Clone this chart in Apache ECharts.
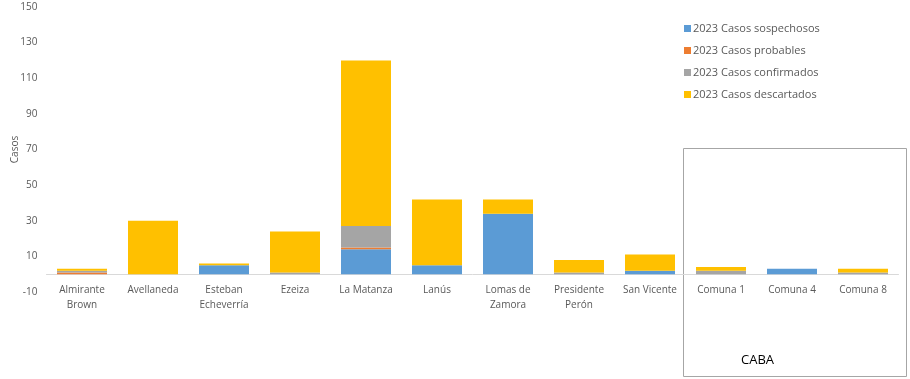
<!DOCTYPE html>
<html><head><meta charset="utf-8">
<script src="https://cdn.jsdelivr.net/npm/echarts@6/dist/echarts.min.js"></script>
<style>html,body{margin:0;padding:0;background:#fff}#c{width:910px;height:379px}</style>
</head><body><div id="c"></div>
<script>
const categories = ["Almirante\nBrown","Avellaneda","Esteban\nEcheverría","Ezeiza","La Matanza","Lanús","Lomas de\nZamora","Presidente\nPerón","San Vicente","Comuna 1","Comuna 4","Comuna 8"];
const sospechosos = [0,0,5,0,14,5,34,0,2,0,3,0];
const probables   = [1,0,0,0,1,0,0,0,0,0,0,0];
const confirmados = [1,0,0,1,12,0,0,1,0,2,0,1];
const descartados = [1,30,1,23,93,37,8,7,9,2,0,2];
const seriesNames = ["2023 Casos sospechosos","2023 Casos probables","2023 Casos confirmados","2023 Casos descartados"];
const yTicks = {min:-10,max:150,interval:20};

const colors = ['#5B9BD5','#ED7D31','#A5A5A5','#FFC000'];
const font = "'Open Sans', sans-serif";
const chart = echarts.init(document.getElementById('c'));
const datasets = [sospechosos, probables, confirmados, descartados];
chart.setOption({
  animation:false,
  color: colors,
  grid:{left:46.5,right:11.5,top:7,bottom:87,containLabel:false,outerBoundsMode:'none'},
  legend:{orient:'vertical',left:679,top:18,itemWidth:7,itemHeight:7,itemGap:11,icon:'rect',
    textStyle:{fontFamily:font,fontSize:11,color:'#595959',padding:[0,0,0,-3]},data:seriesNames},
  xAxis:{type:'category',data:categories,
    axisLine:{onZero:true,lineStyle:{color:'#d9d9d9'}},axisTick:{show:false},
    axisLabel:{fontFamily:font,fontSize:10,color:'#595959',lineHeight:15,margin:-9,interval:0}},
  yAxis:{type:'value',min:yTicks.min,max:yTicks.max,interval:yTicks.interval,
    name:'Casos',nameLocation:'middle',nameGap:26,nameMoveOverlap:false,nameTextStyle:{fontFamily:font,fontSize:10,color:'#595959'},
    splitLine:{show:false},axisLine:{show:false},axisTick:{show:false},
    axisLabel:{fontFamily:font,fontSize:10,color:'#595959',margin:9}},
  series: datasets.map((d,i)=>({name:seriesNames[i],type:'bar',stack:'a',data:d,barWidth:50})),
  graphic:[
    {type:'rect',shape:{x:683.5,y:148.5,width:223,height:228},style:{fill:'none',stroke:'#a6a6a6',lineWidth:1}},
    {type:'text',left:741,top:354,style:{text:'CABA',font:"13px "+font,fill:'#000'}}
  ]
});
</script></body></html>
